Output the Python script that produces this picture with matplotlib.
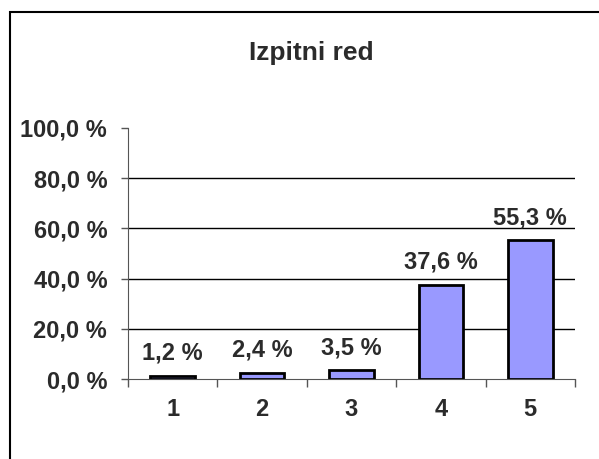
import matplotlib
matplotlib.use("Agg")
import matplotlib.pyplot as plt
from matplotlib.patches import Rectangle

# Data
categories = ["1", "2", "3", "4", "5"]
percentages = [1.2, 2.4, 3.5, 37.6, 55.3]
y_ticks = [0, 20, 40, 60, 80, 100]

text_color = "#2b2b2b"
plt.rcParams["font.family"] = ["Liberation Sans", "DejaVu Sans"]

fig = plt.figure(figsize=(5.99, 4.59), dpi=100)
ax = fig.add_axes([128 / 599, 1 - 379 / 459, (575 - 128) / 599, (379 - 128) / 459])

# Outer chart frame (only left and top edges visible in the picture)
fig.patches.append(Rectangle((9.5 / 599, -0.1), 1.2, 1 - 12.5 / 459 + 0.1,
                             transform=fig.transFigure, fill=False,
                             edgecolor="black", linewidth=1.5))

x = list(range(len(categories)))
ax.bar(x, percentages, width=0.5, color="#9999ff", edgecolor="black",
       linewidth=2, zorder=3)

# Gridlines (none at the top of the scale)
for v in y_ticks[1:-1]:
    ax.axhline(v, color="black", linewidth=1, zorder=1)

# Value labels
for i, v in enumerate(percentages):
    ax.annotate(f"{v:.1f} %".replace(".", ","), (i, v), xytext=(0, 8),
                textcoords="offset points", ha="center", va="bottom",
                fontsize=17, fontweight="bold", color=text_color)

ax.set_xlim(-0.5, len(categories) - 0.5)
ax.set_ylim(0, 100)
ax.set_yticks(y_ticks)
ax.set_yticklabels([f"{v:.1f} %".replace(".", ",") for v in y_ticks])
ax.set_xticks(x)
ax.set_xticklabels(categories)
ax.set_xticks([i - 0.5 for i in range(len(categories) + 1)], minor=True)

ax.tick_params(axis="y", length=5, width=1, pad=10, colors="#555555",
               labelcolor=text_color, labelsize=17)
ax.tick_params(axis="x", which="major", length=0, pad=14,
               labelcolor=text_color, labelsize=17)
ax.tick_params(axis="x", which="minor", length=6, width=1, colors="#555555",
               direction="out")
for lbl in ax.get_yticklabels() + ax.get_xticklabels():
    lbl.set_fontweight("bold")

for side in ["top", "right"]:
    ax.spines[side].set_visible(False)
ax.spines["left"].set_color("#555555")
ax.spines["bottom"].set_color("#555555")
ax.spines["bottom"].set_zorder(4)

fig.text(311 / 599, 1 - 53 / 459, "Izpitni red", ha="center", va="center",
         fontsize=19, fontweight="bold", color=text_color)

fig.savefig("out.png", dpi=100, facecolor="white")
plt.close(fig)
